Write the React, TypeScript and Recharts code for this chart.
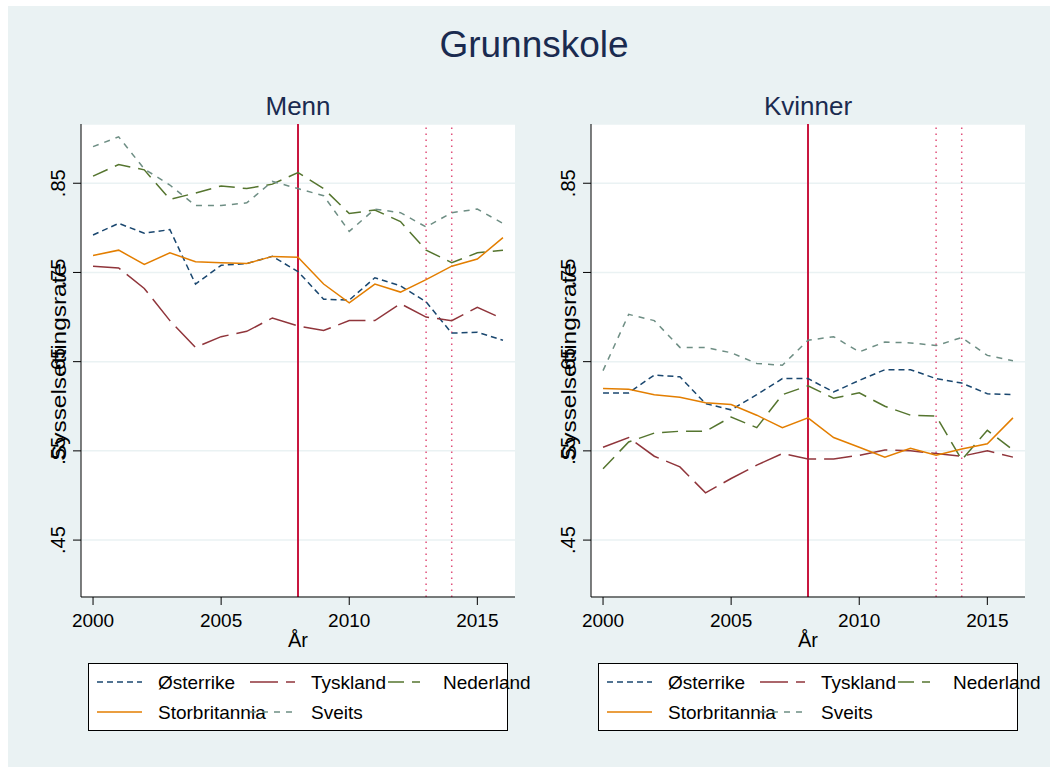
import React from "react";
import { LineChart, Line, XAxis, YAxis, CartesianGrid, ReferenceLine } from "recharts";

const years = [2000, 2001, 2002, 2003, 2004, 2005, 2006, 2007, 2008, 2009, 2010, 2011, 2012, 2013, 2014, 2015, 2016];

const countries = ["Østerrike", "Tyskland", "Nederland", "Storbritannia", "Sveits"];

// Menn
const osterrikeMenn = [0.792, 0.805, 0.794, 0.798, 0.737, 0.758, 0.76, 0.768, 0.751, 0.72, 0.719, 0.744, 0.735, 0.717, 0.682, 0.683, 0.674];
const tysklandMenn = [0.757, 0.755, 0.732, 0.696, 0.666, 0.678, 0.684, 0.699, 0.69, 0.685, 0.696, 0.696, 0.715, 0.7, 0.696, 0.711, 0.698];
const nederlandMenn = [0.858, 0.871, 0.865, 0.832, 0.839, 0.847, 0.844, 0.849, 0.862, 0.844, 0.816, 0.82, 0.807, 0.775, 0.761, 0.772, 0.775];
const storbritanniaMenn = [0.769, 0.775, 0.759, 0.772, 0.762, 0.761, 0.76, 0.768, 0.767, 0.737, 0.716, 0.737, 0.728, 0.742, 0.757, 0.765, 0.789];
const sveitsMenn = [0.891, 0.902, 0.866, 0.848, 0.825, 0.825, 0.828, 0.852, 0.844, 0.836, 0.796, 0.821, 0.817, 0.801, 0.817, 0.821, 0.805];

// Kvinner
const osterrikeKvinner = [0.615, 0.615, 0.635, 0.633, 0.603, 0.596, 0.613, 0.631, 0.631, 0.616, 0.629, 0.641, 0.641, 0.631, 0.626, 0.614, 0.613];
const tysklandKvinner = [0.554, 0.565, 0.544, 0.532, 0.503, 0.519, 0.534, 0.547, 0.541, 0.541, 0.545, 0.551, 0.55, 0.547, 0.544, 0.55, 0.543];
const nederlandKvinner = [0.53, 0.56, 0.57, 0.572, 0.572, 0.588, 0.576, 0.613, 0.623, 0.609, 0.615, 0.6, 0.59, 0.589, 0.54, 0.573, 0.551];
const storbritanniaKvinner = [0.62, 0.619, 0.613, 0.61, 0.604, 0.602, 0.59, 0.576, 0.587, 0.565, 0.554, 0.543, 0.553, 0.545, 0.552, 0.558, 0.587];
const sveitsKvinner = [0.64, 0.703, 0.696, 0.666, 0.666, 0.66, 0.648, 0.646, 0.674, 0.678, 0.661, 0.672, 0.671, 0.668, 0.677, 0.657, 0.651];

const yTicks = [0.45, 0.55, 0.65, 0.75, 0.85];
const xTicks = [2000, 2005, 2010, 2015];
const crisisYear = 2008;
const dottedYears = [2013, 2014];

const colors = ["#1a476f", "#90353b", "#55752f", "#e37e00", "#6e8e84"];
const dashes = ["6 4", "28 8", "16 8", "", "6 6"];

const font = "'Liberation Sans', Arial, Helvetica, sans-serif";
const navy = "#1a2b50";
const bg = "#eaf2f3";

const fmtY = (v: number) => v.toFixed(2).replace(/^0/, "");

const XTick = (p: any) => (
  <text x={p.x} y={p.y + 20} textAnchor="middle" fontSize={19} fontFamily={font} fill="#000">
    {p.payload.value}
  </text>
);

const YTick = (p: any) => (
  <text
    transform={`translate(${p.x - 6},${p.y}) rotate(-90)`}
    textAnchor="middle"
    fontSize={20}
    fontFamily={font}
    fill="#000"
  >
    {fmtY(p.payload.value)}
  </text>
);

function Panel({ left, series }: { left: number; series: number[][] }) {
  const data = years.map((year, i) => {
    const row: any = { year };
    countries.forEach((c, k) => (row[c] = series[k][i]));
    return row;
  });
  return (
    <div style={{ position: "absolute", left, top: 0 }}>
      <LineChart width={520} height={660} data={data} margin={{ top: 118, right: 13, bottom: 9, left: 13 }}>
        <CartesianGrid vertical={false} stroke={bg} strokeWidth={1.5} fill="#ffffff" />
        <XAxis
          dataKey="year"
          type="number"
          domain={[1999.53, 2016.47]}
          ticks={xTicks}
          allowDataOverflow
          height={60}
          tickSize={8}
          stroke="#000"
          tick={XTick}
        />
        <YAxis
          type="number"
          domain={[0.3862, 0.9164]}
          ticks={yTicks}
          allowDataOverflow
          width={60}
          tickSize={8}
          stroke="#000"
          tick={YTick}
        />
        <ReferenceLine x={crisisYear} stroke="#c8173f" strokeWidth={2} />
        {dottedYears.map((y) => (
          <ReferenceLine key={y} x={y} stroke="#e0507a" strokeWidth={1.5} strokeDasharray="1.5 4.5" />
        ))}
        {countries.map((c, k) => (
          <Line
            key={c}
            type="linear"
            dataKey={c}
            stroke={colors[k]}
            strokeWidth={1.5}
            strokeDasharray={dashes[k] || undefined}
            dot={false}
            activeDot={false}
            isAnimationActive={false}
          />
        ))}
      </LineChart>
    </div>
  );
}

function LegendBox({ dx }: { dx: number }) {
  // key start, key end, text x, row
  const items = [
    { k: 0, x1: 89, x2: 134, tx: 150, row: 0 },
    { k: 1, x1: 242, x2: 287, tx: 303, row: 0 },
    { k: 2, x1: 380, x2: 412, tx: 435, row: 0 },
    { k: 3, x1: 89, x2: 134, tx: 150, row: 1 },
    { k: 4, x1: 242, x2: 287, tx: 303, row: 1 },
  ];
  return (
    <g transform={`translate(${dx},0)`}>
      <rect x={80.5} y={657.5} width={419} height={67} fill="#fff" stroke="#000" strokeWidth={1} />
      {items.map((it) => (
        <g key={it.k}>
          <line
            x1={it.x1}
            x2={it.x2}
            y1={676 + it.row * 30}
            y2={676 + it.row * 30}
            stroke={colors[it.k]}
            strokeWidth={1.5}
            strokeDasharray={dashes[it.k] || undefined}
          />
          <text x={it.tx} y={683 + it.row * 30} fontSize={19} fontFamily={font} fill="#000">
            {countries[it.k]}
          </text>
        </g>
      ))}
    </g>
  );
}

function Labels({ dx, title }: { dx: number; title: string }) {
  return (
    <g transform={`translate(${dx},0)`}>
      <text x={290} y={109} textAnchor="middle" fontSize={26} fontFamily={font} fill={navy}>
        {title}
      </text>
      <text x={290} y={641} textAnchor="middle" fontSize={20} fontFamily={font} fill="#000">
        År
      </text>
      <text
        transform="translate(58,356) rotate(-90)"
        textAnchor="middle"
        fontSize={21}
        fontFamily={font}
        fill="#000"
        textLength={198}
        lengthAdjust="spacingAndGlyphs"
      >
        Sysselsettingsrate
      </text>
    </g>
  );
}

export default function App() {
  return (
    <div style={{ position: "absolute", left: 8, top: 6, width: 1042, height: 761, background: bg, overflow: "hidden" }}>
      <Panel left={0} series={[osterrikeMenn, tysklandMenn, nederlandMenn, storbritanniaMenn, sveitsMenn]} />
      <Panel left={510} series={[osterrikeKvinner, tysklandKvinner, nederlandKvinner, storbritanniaKvinner, sveitsKvinner]} />
      <svg width={1042} height={761} style={{ position: "absolute", left: 0, top: 0, pointerEvents: "none" }}>
        <text x={526} y={51} textAnchor="middle" fontSize={37} fontFamily={font} fill={navy}>
          Grunnskole
        </text>
        <Labels dx={0} title="Menn" />
        <Labels dx={510} title="Kvinner" />
        <LegendBox dx={0} />
        <LegendBox dx={510} />
      </svg>
    </div>
  );
}
